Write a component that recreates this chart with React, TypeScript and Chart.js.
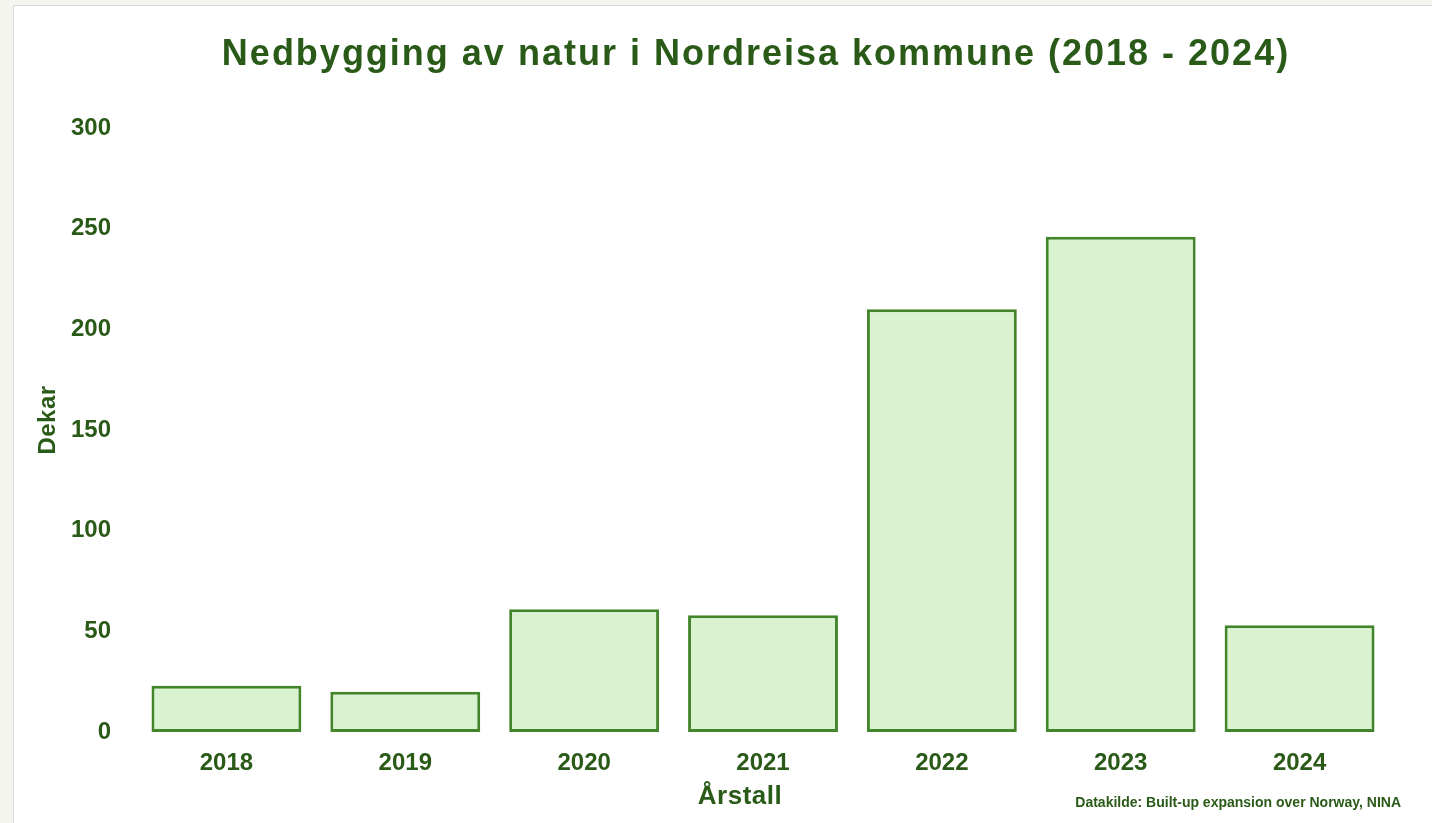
import React, { useEffect, useRef } from "react";
import { Chart, registerables } from "chart.js";

Chart.register(...registerables);

const years = ["2018", "2019", "2020", "2021", "2022", "2023", "2024"];
const dekar = [23, 20, 61, 58, 210, 246, 53];
const yTicks = [0, 50, 100, 150, 200, 250, 300];
const titleText = "Nedbygging av natur i Nordreisa kommune (2018 - 2024)";
const yTitle = "Dekar";
const xTitle = "Årstall";
const sourceText = "Datakilde: Built-up expansion over Norway, NINA";

const TEXT = "#2a5a18";
const FONT = "'Liberation Sans', Arial, sans-serif";

export default function App() {
  const ref = useRef<HTMLCanvasElement | null>(null);

  useEffect(() => {
    if (!ref.current) return;
    const textPlugin = {
      id: "textDecor",
      afterDraw(chart: any) {
        const ctx = chart.ctx;
        const area = chart.chartArea;
        ctx.save();
        ctx.fillStyle = TEXT;
        ctx.textAlign = "center";
        ctx.textBaseline = "middle";
        // title
        (ctx as any).letterSpacing = "2px";
        ctx.font = `bold 36px ${FONT}`;
        ctx.fillText(titleText, 742, 49);
        // x title
        (ctx as any).letterSpacing = "0.5px";
        ctx.font = `bold 26px ${FONT}`;
        ctx.fillText(xTitle, 726, 791);
        // y title
        ctx.save();
        ctx.translate(34, 414);
        ctx.rotate(-Math.PI / 2);
        ctx.font = `bold 24px ${FONT}`;
        ctx.fillText(yTitle, 0, 0);
        ctx.restore();
        // source
        (ctx as any).letterSpacing = "0px";
        ctx.textAlign = "right";
        ctx.font = `bold 14px ${FONT}`;
        ctx.fillText(sourceText, area.right + 12, 797);
        ctx.restore();
      },
    };
    const chart = new Chart(ref.current, {
      type: "bar",
      data: {
        labels: years,
        datasets: [
          {
            data: dekar,
            backgroundColor: "#d9f2d0",
            borderColor: "#43852a",
            borderWidth: 3,
            borderSkipped: false,
            barPercentage: 0.838,
            categoryPercentage: 1,
          },
        ],
      },
      options: {
        responsive: false,
        animation: false,
        layout: { padding: { left: 0, right: 43, top: 122, bottom: 0 } },
        plugins: {
          legend: { display: false },
          tooltip: { enabled: false },
          title: { display: false },
        },
        scales: {
          x: {
            grid: { display: false, drawTicks: false },
            border: { display: false },
            ticks: {
              color: TEXT,
              font: { family: FONT, size: 24, weight: "bold" },
              padding: 17,
            },
            afterFit(scale: any) {
              scale.height = 91;
            },
          },
          y: {
            min: yTicks[0],
            max: yTicks[yTicks.length - 1],
            grid: { display: false, drawTicks: false },
            border: { display: false },
            ticks: {
              stepSize: yTicks[1] - yTicks[0],
              color: TEXT,
              font: { family: FONT, size: 24, weight: "bold" },
              padding: 26,
            },
            afterFit(scale: any) {
              scale.width = 123;
            },
          },
        },
      },
      plugins: [textPlugin],
    });
    return () => chart.destroy();
  }, []);

  return (
    <div
      style={{
        position: "fixed",
        left: 0,
        top: 0,
        width: 1432,
        height: 823,
        background: "#f5f5f0",
        overflow: "hidden",
      }}
    >
      <div
        style={{
          position: "absolute",
          left: 13,
          top: 5,
          width: 1419,
          height: 818,
          background: "#ffffff",
          borderLeft: "1px solid #d9d9d9",
          borderTop: "1px solid #d9d9d9",
          boxSizing: "border-box",
        }}
      >
        <canvas ref={ref} width={1418} height={817} style={{ display: "block" }} />
      </div>
    </div>
  );
}
